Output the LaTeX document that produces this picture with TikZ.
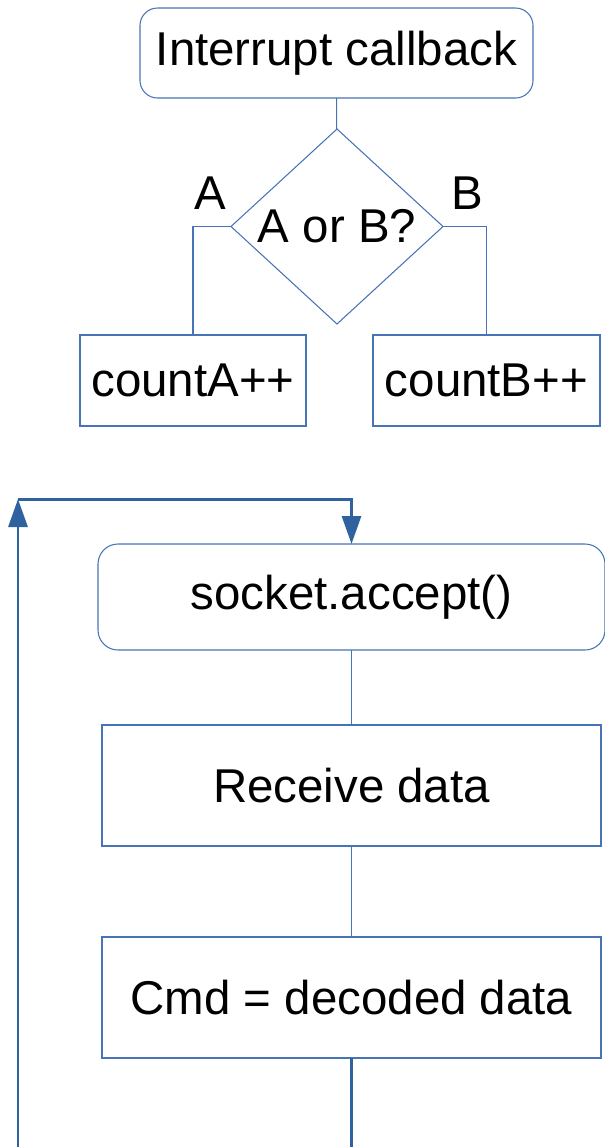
\documentclass[tikz,border=0pt]{standalone}
\usepackage{fontspec}
\setmainfont{Liberation Sans}
\usetikzlibrary{positioning}
\usetikzlibrary{shapes.geometric}
\usetikzlibrary{arrows.meta}

\definecolor{flowblue}{RGB}{70,116,182}
\definecolor{loopblue}{RGB}{47,98,158}

\begin{document}
\begin{tikzpicture}[
    every node/.style={font=\fontsize{27}{32}\selectfont, inner sep=0pt, outer sep=0pt},
    flow/.style={draw=flowblue, line width=0.6pt},
    box/.style={flow, rectangle, fill=white},
    rbox/.style={box, rounded corners=0.35cm},
    decision/.style={flow, diamond, fill=white},
    loopline/.style={draw=loopblue, line width=1.7pt},
    looparrow/.style={loopline, -{Triangle[length=0.56cm, width=0.38cm]}}
]
\useasboundingbox (0,0) rectangle (12.1,-22.94);

% Interrupt part
\node[rbox, minimum width=7.86cm, minimum height=1.8cm] (callback) at (6.73,-1.06) {Interrupt callback};
\node[decision, minimum width=4.24cm, minimum height=3.9cm] (choice) at (6.74,-4.53) {A or B?};
\node (labelA) at (4.2,-3.86) {A};
\node (labelB) at (9.34,-3.86) {B};
\node[box, minimum width=4.52cm, minimum height=1.82cm] (countA) at (3.86,-7.61) {countA++};
\node[box, minimum width=4.54cm, minimum height=1.82cm] (countB) at (9.73,-7.61) {countB++};

\draw[flow] (callback) -- (choice);
\draw[flow] (choice.west) -| (countA.north);
\draw[flow] (choice.east) -| (countB.north);

% Server loop
\node[rbox, rounded corners=0.4cm, minimum width=10.14cm, minimum height=2.12cm] (accept) at (7.03,-11.94) {socket.accept()};
\node[box, minimum width=9.98cm, minimum height=2.42cm] (receive) at (7.03,-15.71) {Receive data};
\node[box, minimum width=9.98cm, minimum height=2.42cm] (decode) at (7.03,-19.95) {Cmd = decoded data};

\draw[flow] (accept) -- (receive);
\draw[flow] (receive) -- (decode);

% Loop back to accept
\coordinate (loopend) at (7.03,-22.94);
\coordinate (loopstart) at (0.36,-22.94);
\coordinate (loopcorner) at (0.36,-9.98);
\coordinate (looptop) at (7.03,-9.98);

\draw[loopline] (decode) -- (loopend);
\draw[looparrow] (loopstart) -- (loopcorner);
\draw[looparrow] (loopcorner) -- (looptop) -- (accept.north);

\end{tikzpicture}
\end{document}
